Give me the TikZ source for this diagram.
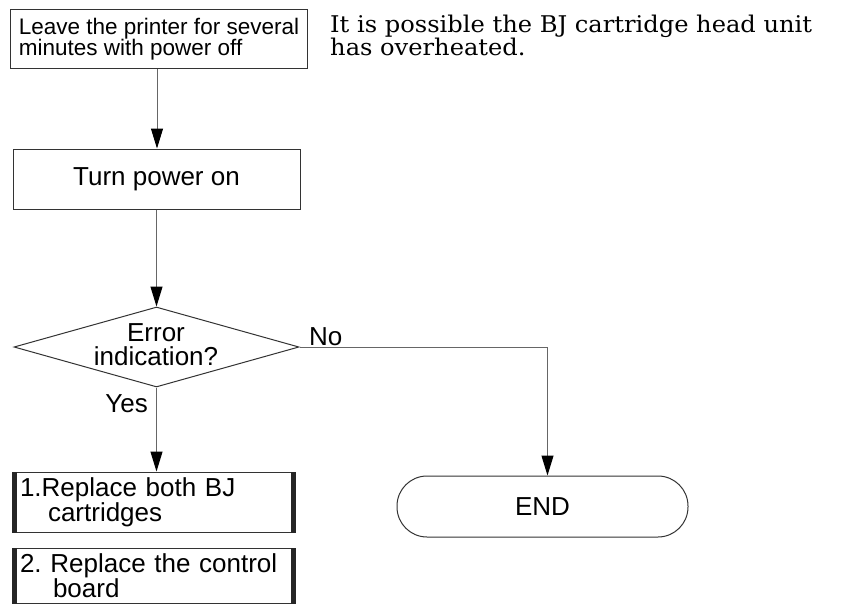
\documentclass[tikz,border=0pt]{standalone}
\usepackage{fontspec}
\setmainfont{Liberation Sans}
\newfontfamily\noteserif{DejaVu Serif}[FakeStretch=1.05]
\usetikzlibrary{arrows.meta,shapes.geometric}
\tikzset{
  conn/.style={draw=black!60, line width=1pt},
  arr/.style={conn, -{Triangle[length=20pt,width=12pt,color=black]}},
  box/.style={draw=black!80, line width=1pt, rectangle, inner sep=0pt, inner xsep=8pt, align=left},
  bigtxt/.style={font=\fontsize{26}{22}\selectfont},
  smalltxt/.style={font=\fontsize{22.5}{21}\selectfont},
  bar/.style={fill=black!85}
}
\frenchspacing
\begin{document}
\begin{tikzpicture}[x=1pt,y=-1pt]
\useasboundingbox[fill=white] (0,0) rectangle (852,613);

\node[box, smalltxt, minimum width=292, minimum height=59, align=left] (leave) at (159,39)
  {Leave the printer for several\\minutes with power off};
\node[anchor=north west, align=left, inner sep=0pt, font=\noteserif\fontsize{23}{23.3}\selectfont] (note) at (330,15)
  {It is possible the BJ cartridge head unit\\has overheated.};

\node[box, bigtxt, minimum width=287, minimum height=60, align=center] (turn) at (156.5,179) {Turn power on};

\node[diamond, draw=black!80, line width=1pt, minimum width=285, minimum height=80, inner sep=0pt] (err) at (156.5,347) {};
\node[align=center, inner sep=0pt, font=\fontsize{26}{24.3}\selectfont] (errtxt) at (156,344.5) {Error\\indication?};

\node[box, bigtxt, minimum width=283, minimum height=60, text width=267] (rep1) at (153.5,502)
  {1.Replace both BJ\\\hspace*{28pt}cartridges};
\fill[bar] (rep1.north west) rectangle ([xshift=5pt]rep1.south west);
\fill[bar] (rep1.north east) rectangle ([xshift=-5pt]rep1.south east);

\node[box, bigtxt, minimum width=283, minimum height=55, text width=267] (rep2) at (153.5,575.5)
  {2. Replace the control\\\hspace*{33pt}board};
\fill[bar] (rep2.north west) rectangle ([xshift=5pt]rep2.south west);
\fill[bar] (rep2.north east) rectangle ([xshift=-5pt]rep2.south east);

\node[draw=black!80, line width=1pt, rounded corners=30pt, minimum width=291, minimum height=61, bigtxt] (endn) at (542.5,506.5) {END};

\draw[arr] ([xshift=-2pt]leave.south) -- ([xshift=0.5pt]turn.north);
\draw[arr] (turn.south) -- (err.north);
\draw[arr] (err.south) -- (err.south |- rep1.north);
\draw[arr] (err.east) -| ([xshift=5pt]endn.north);

\node[bigtxt, anchor=south west, inner sep=0pt] (no) at (309,346) {No};
\node[bigtxt, anchor=east, inner sep=0pt] (yes) at (148,404) {Yes};
\end{tikzpicture}
\end{document}
